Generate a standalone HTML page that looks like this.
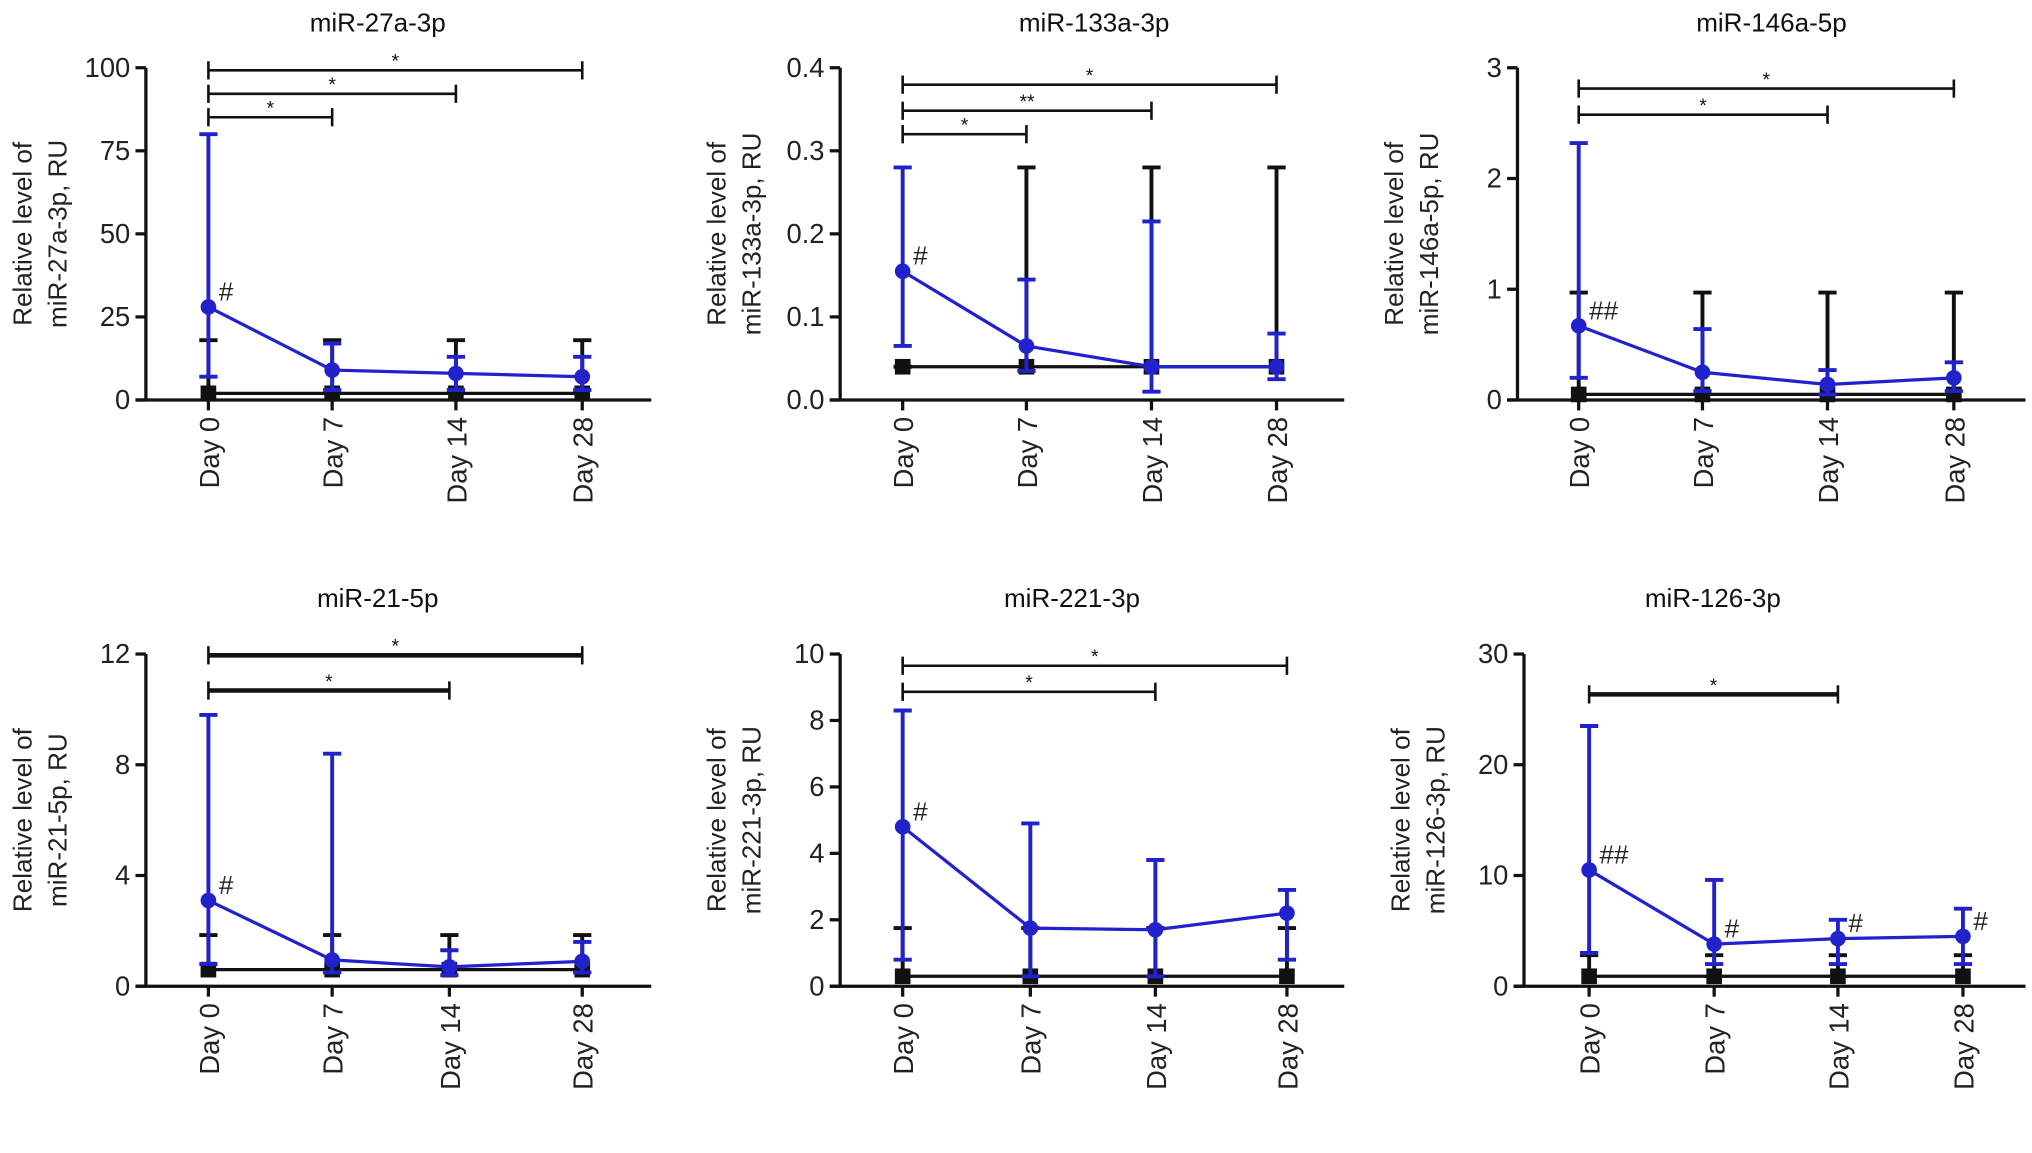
<!DOCTYPE html>
<html><head><meta charset="utf-8"><style>
html,body{margin:0;padding:0;background:#fff;}
svg{display:block;font-family:"Liberation Sans",Arial,sans-serif;}
</style></head><body>
<svg id="fig" width="2032" height="1153" viewBox="0 0 1560 885" preserveAspectRatio="none" xmlns="http://www.w3.org/2000/svg"></svg>
<script>
const days = ["Day 0","Day 7","Day 14","Day 28"];
const titles = ["miR-27a-3p","miR-133a-3p","miR-146a-5p","miR-21-5p","miR-221-3p","miR-126-3p"];
const yMaxes = [100,0.4,3,12,10,30];
const yTickLabels = [["0","25","50","75","100"],["0.0","0.1","0.2","0.3","0.4"],["0","1","2","3"],["0","4","8","12"],["0","2","4","6","8","10"],["0","10","20","30"]];
const blueMean = [[28,9,8,7],[0.155,0.065,0.04,0.04],[0.67,0.25,0.14,0.2],[3.1,0.95,0.7,0.9],[4.8,1.75,1.7,2.2],[10.5,3.8,4.3,4.5]];
const blueHi = [[80,17,13,13],[0.28,0.145,0.215,0.08],[2.32,0.64,0.27,0.34],[9.8,8.4,1.3,1.6],[8.3,4.9,3.8,2.9],[23.5,9.6,6,7]];
const blueLo = [[7,3,3,3],[0.065,0.035,0.01,0.025],[0.2,0.08,0.05,0.08],[0.8,0.5,0.4,0.5],[0.8,0.3,0.3,0.8],[3,2,2,2]];
const blackMean = [[2,2,2,2],[0.04,0.04,0.04,0.04],[0.05,0.05,0.05,0.05],[0.6,0.6,0.6,0.6],[0.3,0.3,0.3,0.3],[0.9,0.9,0.9,0.9]];
const blackHi = [[18,18,18,18],[0.04,0.28,0.28,0.28],[0.97,0.97,0.97,0.97],[1.85,1.85,1.85,1.85],[1.75,1.75,1.75,1.75],[2.8,2.8,2.8,2.8]];
const brackets = [[[0,3,"*"],[0,2,"*"],[0,1,"*"]],[[0,3,"*"],[0,2,"**"],[0,1,"*"]],[[0,3,"*"],[0,2,"*"]],[[0,3,"*"],[0,2,"*"]],[[0,3,"*"],[0,2,"*"]],[[0,2,"*"]]];
const hashes = [["#","","",""],["#","","",""],["##","","",""],["#","","",""],["#","","",""],["##","#","#","#"]];

const layout = [
 {ax:112,dx:[160,255,350,447],top:52,bot:307,tx:290,ty:24,end:500,by:[54,72,90],thick:2},
 {ax:645,dx:[693,788,884,980],top:52,bot:307,tx:840,ty:24,end:1032,by:[65,85,103],thick:2},
 {ax:1165,dx:[1212,1307,1403,1500],top:52,bot:307,tx:1360,ty:24,end:1555,by:[68,88],thick:2},
 {ax:112,dx:[160,255,345,447],top:502,bot:757,tx:290,ty:466,end:500,by:[503,530],thick:3.5},
 {ax:645,dx:[693,791,887,988],top:502,bot:757,tx:823,ty:466,end:1032,by:[511,531],thick:2},
 {ax:1170,dx:[1220,1316,1411,1507],top:502,bot:757,tx:1315,ty:466,end:1555,by:[533],thick:3.5}
];
const NS="http://www.w3.org/2000/svg";
const svg=document.getElementById('fig');
function el(tag,attrs,parent,text){const e=document.createElementNS(NS,tag);for(const k in attrs)e.setAttribute(k,attrs[k]);if(text!==undefined)e.textContent=text;(parent||svg).appendChild(e);return e;}
const BLUE="#2222cc";
titles.forEach((t,p)=>{
  const L=layout[p];
  const g=el('g',{});
  
  
  const y=v=>L.bot-(v/yMaxes[p])*(L.bot-L.top);
  const x=i=>L.dx[i];
  const tt=el('text',{x:L.tx,y:L.ty,'text-anchor':'middle','font-size':20,fill:'#111'},g,t);
  
  
  const ya=el('line',{x1:L.ax,y1:L.top,x2:L.ax,y2:L.bot,stroke:'#111','stroke-width':2.5},g);
  
  
  const xa=el('line',{x1:L.ax-8,y1:L.bot,x2:L.end,y2:L.bot,stroke:'#111','stroke-width':2.5},g);
  
  
  const labs=yTickLabels[p];
  labs.forEach((lab,i)=>{
    const v=yMaxes[p]*i/(labs.length-1);
    el('line',{x1:L.ax-8,y1:y(v),x2:L.ax,y2:y(v),stroke:'#111','stroke-width':2.5},g);
    const tl=el('text',{x:L.ax-12,y:y(v)+7,'text-anchor':'end','font-size':21,fill:'#222'},g,lab);
    
    
  });
  days.forEach((d,i)=>{
    el('line',{x1:x(i),y1:L.bot,x2:x(i),y2:L.bot+8,stroke:'#111','stroke-width':2.5},g);
    const xl=el('text',{x:0,y:0,'text-anchor':'end','font-size':21,fill:'#222',transform:`translate(${x(i)+8},${L.bot+13}) rotate(-90)`},g,d);
    
    
  });
  const cy=(L.top+L.bot)/2;
  const yl=el('text',{'text-anchor':'middle','font-size':20,fill:'#222',transform:`translate(${L.ax-88},${cy}) rotate(-90)`},g);
  
  
  el('tspan',{x:0,dy:0},yl,'Relative level of');
  el('tspan',{x:0,dy:27},yl,t+', RU');
  brackets[p].forEach((b,k)=>{
    const by=L.by[k];
    const bg=el('g',{},g);
    
    
    el('line',{x1:x(b[0]),y1:by,x2:x(b[1]),y2:by,stroke:'#111','stroke-width':L.thick},bg);
    el('line',{x1:x(b[0]),y1:by-7,x2:x(b[0]),y2:by+7,stroke:'#111','stroke-width':2},bg);
    el('line',{x1:x(b[1]),y1:by-7,x2:x(b[1]),y2:by+7,stroke:'#111','stroke-width':2},bg);
    el('text',{x:(x(b[0])+x(b[1]))/2,y:by-2,'text-anchor':'middle','font-size':15,fill:'#111'},bg,b[2]);
  });
  const bk=el('g',{},g);
  
  
  blackMean[p].forEach((m,i)=>{
    el('line',{x1:x(i),y1:y(m),x2:x(i),y2:y(blackHi[p][i]),stroke:'#111','stroke-width':3},bk);
    el('line',{x1:x(i)-7,y1:y(blackHi[p][i]),x2:x(i)+7,y2:y(blackHi[p][i]),stroke:'#111','stroke-width':3},bk);
  });
  el('polyline',{points:blackMean[p].map((m,i)=>x(i)+','+y(m)).join(' '),fill:'none',stroke:'#111','stroke-width':2.5},bk);
  blackMean[p].forEach((m,i)=>{
    const r=el('rect',{x:x(i)-6,y:y(m)-6,width:12,height:12,fill:'#111'},bk);
    
    
  });
  const bl=el('g',{},g);
  
  
  blueMean[p].forEach((m,i)=>{
    el('line',{x1:x(i),y1:y(blueLo[p][i]),x2:x(i),y2:y(blueHi[p][i]),stroke:BLUE,'stroke-width':3},bl);
    el('line',{x1:x(i)-7,y1:y(blueHi[p][i]),x2:x(i)+7,y2:y(blueHi[p][i]),stroke:BLUE,'stroke-width':3},bl);
    el('line',{x1:x(i)-7,y1:y(blueLo[p][i]),x2:x(i)+7,y2:y(blueLo[p][i]),stroke:BLUE,'stroke-width':3},bl);
  });
  el('polyline',{points:blueMean[p].map((m,i)=>x(i)+','+y(m)).join(' '),fill:'none',stroke:BLUE,'stroke-width':2.5},bl);
  blueMean[p].forEach((m,i)=>{
    const c=el('circle',{cx:x(i),cy:y(m),r:6,fill:BLUE},bl);
    
    
    if(hashes[p][i]){
      const h=el('text',{x:x(i)+8,y:y(m)-5,'font-size':20,fill:'#222'},bl,hashes[p][i]);
      
      
    }
  });
});
</script>
</body></html>
